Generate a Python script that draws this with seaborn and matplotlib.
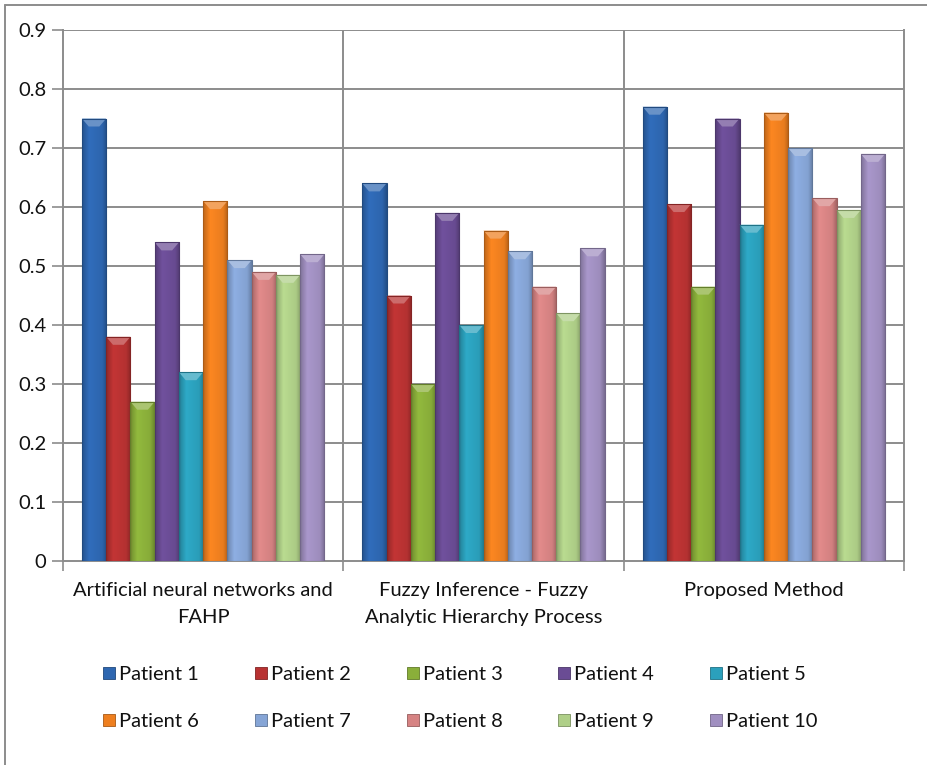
import numpy as np
import pandas as pd
import matplotlib
matplotlib.use("Agg")
import matplotlib.pyplot as plt
from matplotlib.colors import to_rgb
from matplotlib.patches import Polygon, Rectangle
from matplotlib.lines import Line2D
import seaborn as sns

# ---- data -------------------------------------------------------------
methods = [
    "Artificial neural networks and\nFAHP",
    "Fuzzy Inference - Fuzzy\nAnalytic Hierarchy Process",
    "Proposed Method",
]
patients = [f"Patient {i}" for i in range(1, 11)]

ann_fahp = [0.75, 0.38, 0.27, 0.54, 0.32, 0.61, 0.51, 0.49, 0.485, 0.52]
fuzzy_fahp = [0.64, 0.45, 0.30, 0.59, 0.40, 0.56, 0.525, 0.465, 0.42, 0.53]
proposed = [0.77, 0.605, 0.465, 0.75, 0.57, 0.76, 0.70, 0.615, 0.595, 0.69]

colors = ["#2E67B1", "#B83232", "#8AAF3A", "#6A4C94", "#2BA0BC",
          "#EE7F1F", "#86A5D6", "#D68383", "#AFCF88", "#A08FC0"]

yticks = [0, 0.1, 0.2, 0.3, 0.4, 0.5, 0.6, 0.7, 0.8, 0.9]
ytick_labels = ["0", "0.1", "0.2", "0.3", "0.4", "0.5", "0.6", "0.7", "0.8", "0.9"]

rows = []
for m, vals in zip(methods, [ann_fahp, fuzzy_fahp, proposed]):
    for p, v in zip(patients, vals):
        rows.append({"method": m, "patient": p, "value": v})
df = pd.DataFrame(rows)

# ---- figure -----------------------------------------------------------
sns.set_theme(style="white")
plt.rcParams["font.family"] = ["Lato", "DejaVu Sans"]
W, H = 927, 765
fig = plt.figure(figsize=(W / 100, H / 100), dpi=100)

left, right, top, bottom = 63, 904, 30, 561
ax = fig.add_axes([left / W, 1 - bottom / H, (right - left) / W, (bottom - top) / H])

sns.barplot(data=df, x="method", y="value", hue="patient", order=methods,
            hue_order=patients, palette=colors, width=0.865, gap=0,
            saturation=1, legend=False, ax=ax, zorder=3,
            edgecolor="none", linewidth=0)

ax.set_xlim(-0.5, 2.5)
ax.set_ylim(0, 0.9)
ax.set_yticks(yticks)
ax.set_yticklabels(ytick_labels)
ax.set_xlabel("")
ax.set_ylabel("")

grid_c = "#8C8C8C"
for y in yticks[1:]:
    ax.axhline(y, color=grid_c, lw=1.4, zorder=1)
for x in (0.5, 1.5):
    ax.axvline(x, color=grid_c, lw=1.4, zorder=1)

for s in ["left", "right", "bottom", "top"]:
    ax.spines[s].set_color(grid_c)
    ax.spines[s].set_linewidth(1.4)
ax.spines["top"].set_visible(False)

ax.tick_params(axis="y", which="both", left=True, length=8, width=1.2,
               color=grid_c, labelsize=14.5, labelcolor="#111111", pad=4)
ax.set_xticks([-0.5, 0.5, 1.5, 2.5], minor=True)
ax.tick_params(axis="x", which="minor", bottom=True, length=7, width=1.2,
               color=grid_c)
ax.tick_params(axis="x", which="major", bottom=False, labelsize=14.5,
               labelcolor="#111111", pad=9)
for lbl in ax.get_xticklabels():
    lbl.set_linespacing(1.75)

# ---- bevelled, shaded bar faces -------------------------------------
px_per_unit = (bottom - top) / 0.9
profile = np.concatenate([np.linspace(0.80, 1.06, 30), np.linspace(1.06, 0.98, 50),
                          np.linspace(0.98, 0.76, 20)])
for patch in list(ax.patches):
    x0, y0 = patch.get_x(), patch.get_y()
    w, h = patch.get_width(), patch.get_height()
    if h <= 0:
        continue
    base = np.array(to_rgb(patch.get_facecolor()))
    img = np.clip(base[None, None, :] * profile[None, :, None], 0, 1)
    im = ax.imshow(img, extent=(x0, x0 + w, y0, y0 + h), aspect="auto",
                   zorder=3.5, interpolation="bilinear")
    im.set_clip_path(patch)
    d = 8 / px_per_unit
    light = np.clip(base + (1 - base) * 0.28, 0, 1)
    bevel = Polygon([(x0, h), (x0 + w, h), (x0 + w * 0.72, h - d), (x0 + w * 0.28, h - d)],
                    closed=True, facecolor=light, edgecolor="none", zorder=3.6)
    ax.add_patch(bevel)
    edge = Rectangle((x0, y0), w, h, facecolor="none",
                     edgecolor=np.clip(base * 0.72, 0, 1), lw=0.8, zorder=3.7)
    ax.add_patch(edge)

# ---- legend -------------------------------------------------------------
handles = [Line2D([], [], marker="s", ls="none", markersize=9,
                  markerfacecolor=c, markeredgecolor=np.clip(np.array(to_rgb(c)) * 0.7, 0, 1),
                  markeredgewidth=0.6) for c in colors]
order = [0, 5, 1, 6, 2, 7, 3, 8, 4, 9]
leg = fig.legend([handles[i] for i in order], [patients[i] for i in order],
                 ncol=5, loc="upper left", bbox_to_anchor=(103 / W, 1 - 666 / H),
                 frameon=False, fontsize=14.5, handlelength=0.6, handletextpad=0.2,
                 columnspacing=2.77, labelspacing=1.5, borderpad=0, borderaxespad=0)
for t in leg.get_texts():
    t.set_color("#111111")

# chart-area frame (left and top edges)
fig.add_artist(Line2D([4.5 / W, 4.5 / W], [0, 1 - 5 / H], transform=fig.transFigure,
                      color="#8C8C8C", lw=1.4))
fig.add_artist(Line2D([4.5 / W, 1], [1 - 5 / H, 1 - 5 / H], transform=fig.transFigure,
                      color="#8C8C8C", lw=1.4))

fig.savefig("out.png", dpi=100, facecolor="white")
